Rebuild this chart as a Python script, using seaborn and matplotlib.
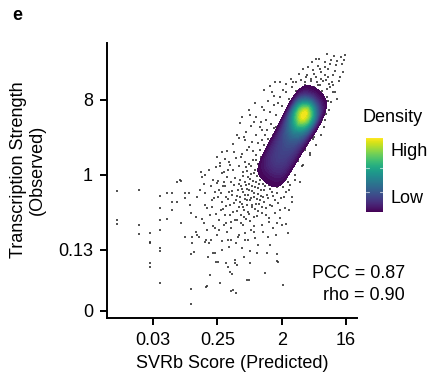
"""Predicted SVRb score vs observed transcription strength (panel e)."""

import matplotlib

matplotlib.use("Agg")
import matplotlib.pyplot as plt
import seaborn as sns

# --- data (log2 units) ------------------------------------------------------
# sparse individual measurements outside the dense core
POINT_X = [
    -6.67, -5.65, -6.67, -6.67, -5.65, -5.65, -5.14, -5.14, -4.67, -4.67, -4.67, -4.67, -4.67,
    -4.35, -4.35, -4.12, -4.12, -4.12, -3.88, -3.70, -3.88, -3.70, -3.51, -3.51, -3.51, -3.33,
    -3.28, -3.23, -3.19, -2.95, -3.00, -3.00, -2.86, -2.81, -2.77, -2.58, -2.58, -2.58, -2.63,
    -2.53, -2.49, -2.35, -2.26, -2.12, -2.12, -1.88, -1.79, -2.02, -5.14, -4.67, -5.14, -5.14,
    -4.67, -3.23, -3.23, -3.19, -3.23, -3.09, -2.95, -2.58, -2.40, -2.44, -2.53, -2.49, -2.35,
    -2.21, -2.12, -2.07, -1.98, -1.88, -1.79, -1.60, -1.51, -1.42, -1.33, -1.37, -1.14, -1.19,
    -1.09, -1.19, -0.77, -0.49, -0.49, -0.53, -0.12, -0.16, 0.21, 0.77, 0.77, 0.72, 1.28, 0.81,
    1.05, 0.44, 0.30, -0.63, -1.28, 0.77, 1.00, -3.74, -2.70,
    -2.40, -2.20, -2.05, -1.95, -1.85, -1.75, -1.70, -1.65, -1.60, -1.55, -1.50, -1.45, -1.40,
    -1.35, -2.30, -2.00, -1.90, -1.80, -2.25,
    -1.40, -1.30, -1.25, -1.20, -1.15, -1.10, -1.05, -1.00, -0.95, -0.95, -0.90, -0.88, -0.85,
    -0.80, -0.80, -0.78, -0.75, -0.72, -0.70, -0.68, -0.65, -0.62, -0.60, -0.58, -0.55, -0.52,
    -0.50, -0.50, -0.48, -0.45, -0.42, -0.40, -0.38, -0.35, -0.33, -0.30, -0.28, -0.25, -0.22,
    -0.20, -0.18, -0.15, -0.12, -0.10, -0.08, -0.05, -0.02, 0.00, 0.02, 0.05, 0.08, 0.10, 0.12,
    0.15, 0.18, 0.20, 0.22, 0.25, 0.28, 0.30, 0.33, 0.36, 0.40, 0.42, 0.45, 0.50, 0.52, 0.55,
    0.60, 0.62, 0.65, 0.70, 0.72, 0.78, 0.80, -1.60, -1.65, -1.70, -1.80, -1.90, -1.55, -1.35,
    -1.00, -0.70, -0.30, 0.10, 0.40, 0.90, 1.10, 1.00,
    0.95, 1.15, 1.30, 1.45, 1.60, 1.75, 1.20, 1.50, 1.85, 2.00, 2.10, 2.30, 2.50, 2.70, 2.90,
    2.60, 3.00, 2.85,
    -0.90, -0.60, -0.40, -0.20, 0.00, 0.10, 0.25, 0.30, 0.45, 0.50, 0.65, 0.75, 0.90, 1.00,
    1.20, 1.35, 1.50, 1.65, -0.75, -0.30, 0.10, 0.55, -1.20, -1.50, -1.10, -0.50, 0.20, 0.90,
    0.67, -0.95, -0.49, 1.51, -0.72, 0.07,
    1.90, 2.10, 2.20, 2.35, 2.45, 2.60, 2.70, 2.80, 2.85, 3.00, 3.05, 3.15, 3.25, 3.30, 3.40,
    3.50, 3.55, 3.65, 3.75, 3.85, 3.95, 3.10, 2.95, 3.30, 2.50, 2.40, 2.00, 3.45, 3.20, 2.90,
    2.75, 3.60, 3.00, 3.20, 2.95, 3.40, 2.55, 2.65, 2.85, 3.00, 3.10, 3.35, 2.25, 2.15,
    -1.83, -1.74, -1.69, -1.62, -1.58, -1.51, -1.47, -1.43, -1.38, -1.36, -1.31, -1.27, -1.22,
    -1.19, -1.16, -1.12, -1.08, -1.06, -1.03, -0.99, -0.97, -0.93, -0.91, -0.87, -0.84, -0.82,
    -0.79, -0.76, -0.73, -0.71, -0.69, -0.66, -0.63, -0.61, -0.57, -0.54, -0.53, -0.49, -0.47,
    -0.44, -0.41, -0.39, -0.36, -0.34, -0.31, -0.29, -0.27, -0.24, -0.21, -0.19, -0.16, -0.14,
    -0.11, -0.09, -0.06, -0.04, -0.01, 0.03, 0.06, 0.08, 0.11, 0.14, 0.17, 0.19, 0.23, 0.26,
    0.29, 0.31, 0.34, 0.38, 0.41, 0.44, 0.47, 0.51, 0.54, 0.57, 0.61, 0.64, 0.67, 0.71, 0.74,
    0.79, 0.83, 0.88, 0.93, 0.97, 1.04, 1.09, 1.14, 1.21, 1.27, 1.33, 1.41, 1.48, 1.56,
    -2.14, -2.08, -2.03, -1.97, -1.91, -1.87, -2.27, -2.18, -1.77, -1.46, -1.12, -0.86, -0.58,
    -0.22, 0.12, 0.36, 0.58, 0.91, 1.18, 1.36, -2.46, -2.61, -2.72, -1.29, -1.57, -0.97, -0.68,
    -0.42, -0.18, 0.05, 0.19, 0.38, 0.62, 0.81, 1.06, 1.18, 1.42, 1.66, 1.79, -0.83, -0.24,
    0.47,
    2.20, 2.45, 2.62, 2.78, 3.07, 3.15, 2.32, 1.95, 1.63, 1.38,
    2.38, 2.52, 2.68, 2.79, 2.91, 3.04, 3.18, 3.27, 3.38, 3.49, 3.58, 3.71, 3.82, 2.22, 2.60,
    3.12, 3.92, 2.07,
]
POINT_Y = [
    -0.64, -0.60, -1.80, -1.96, -2.00, -2.36, -2.32, -2.68, -0.84, -1.32, -1.80, -2.20, -2.92,
    -0.72, -1.76, -0.72, -1.08, -1.40, -0.28, -0.24, -1.08, -1.92, -0.72, -0.92, -2.48, -0.72,
    -1.20, -1.52, -2.48, -0.88, -1.68, -2.28, -2.48, -0.60, 0.12, 0.00, -0.72, -1.20, -1.92,
    -2.60, -2.20, -1.60, -1.00, -0.68, -2.12, 0.48, 0.08, -0.32, -2.72, -3.04, -3.52, -3.68,
    -4.32, -4.56, -5.16, -2.72, -3.16, -3.08, -2.40, -2.68, -2.72, -3.28, -4.48, -4.44, -4.00,
    -3.12, -3.12, -3.48, -3.48, -4.32, -3.00, -3.52, -3.68, -3.88, -3.96, -4.64, -4.72, -3.52,
    -3.60, -3.40, -3.28, -3.04, -3.52, -4.20, -2.80, -3.12, -3.92, -3.16, -3.44, -2.40, -2.32,
    -3.48, -4.40, -2.80, -3.12, -4.20, -4.60, -1.92, -2.00, -0.20, -0.08,
    0.20, -0.20, 0.30, -0.90, -1.40, -0.45, -2.00, 0.65, -1.25, -0.10, -2.60, -0.70, 0.40,
    -1.90, -2.60, -2.40, -1.80, 0.90, -1.30,
    -1.20, -0.80, -1.50, -0.40, -1.00, -1.80, -0.60, -1.30, -0.20, -0.90, -1.60, -0.45, -1.15,
    0.10, -0.70, -2.00, -1.40, -0.30, -0.95, -1.75, 0.30, -0.55, -1.20, -0.10, -0.80, -1.55,
    0.45, -0.35, -1.00, -2.20, 0.05, -0.65, -1.30, 0.60, -0.25, -0.90, -1.70, 0.20, -0.50,
    -1.15, 0.80, -0.05, -0.75, -1.45, 0.45, -0.35, -1.00, 1.00, 0.10, -0.60, -1.30, 0.60, -0.15,
    -0.90, 1.20, 0.30, -0.45, -1.60, 0.85, -0.05, -0.80, 1.45, 0.50, -0.40, -1.20, 1.00, 0.10,
    -0.70, 1.60, 0.55, -0.30, -1.00, 1.90, 0.20, -0.50, -0.90, -1.60, -0.30, -1.10, -0.60,
    -2.30, -2.60, -2.40, -2.60, -2.30, -2.00, -1.90, -1.40, -0.90, -0.20,
    0.10, 0.35, -0.30, 0.50, 0.00, 0.55, -0.70, -1.10, -0.30, 0.40, 1.00, 0.80, 1.50, 1.90, 2.20,
    1.20, 2.70, 1.60,
    0.70, 1.00, 1.30, 1.60, 1.90, 1.40, 2.20, 1.80, 2.50, 2.05, 2.80, 2.40, 3.10, 2.75, 3.30,
    3.05, 3.50, 3.35, 1.50, 2.10, 2.70, 3.30, 0.90, 0.20, 1.60, 2.60, 3.40, 3.70, 3.72, 2.08,
    2.40, 3.72, 1.40, 1.80,
    3.80, 3.60, 4.00, 3.75, 4.20, 3.90, 4.35, 3.60, 4.10, 4.50, 3.80, 4.25, 3.50, 4.60, 4.00,
    3.30, 4.40, 3.75, 4.70, 4.10, 4.80, 3.10, 2.80, 2.90, 3.50, 4.50, 4.25, 4.75, 3.65, 3.35,
    4.65, 3.05, 2.20, 2.60, 1.90, 3.30, 3.45, 3.70, 3.85, 4.00, 3.45, 3.70, 3.55, 3.90,
    -0.71, -1.37, 0.12, -0.46, -1.93, -0.98, 0.53, -1.61, -0.27, -2.14, -0.63, 0.21, -1.12,
    -1.79, -0.14, 0.68, -0.84, -1.43, -2.47, -0.36, 0.37, -1.07, -1.92, -0.58, 0.83, -1.27,
    -0.03, -1.68, -0.79, 0.52, -2.31, -0.42, -1.02, 0.16, -1.48, -0.62, 1.12, -0.17, -1.86,
    -0.93, 0.37, -1.21, -0.46, 0.94, -2.04, -0.71, 0.08, -1.38, -0.29, 0.58, -0.97, -1.66,
    -0.52, 1.27, 0.23, -1.18, -0.21, -0.83, 0.71, -1.51, -0.38, 0.37, -1.08, -0.62, 1.58, 0.02,
    -1.34, -0.27, 0.64, -0.94, -1.71, 1.09, -0.56, -0.12, -1.26, 0.41, -0.83, 1.86, -0.33,
    -1.52, 0.12, -0.71, -1.12, -0.24, 0.38, -0.91, -0.47, 0.22, -1.33, -0.16, 0.57, -0.61,
    0.14, -0.87, 0.42,
    -0.91, -1.56, 0.72, -0.23, -2.21, 0.36, -0.43, -2.04, -2.66, -2.87, -2.71, -2.93, -2.62,
    -2.54, -2.28, -2.47, -2.13, -1.74, -1.97, -1.42, -1.31, -0.37, -1.77, 1.22, 0.97, 1.46, 1.73,
    1.95, 2.31, 2.12, 2.58, 2.94, 3.14, 2.86, 3.41, 3.62, 3.84, 3.71, 4.02, 2.33, 2.87,
    3.56,
    1.20, 1.45, 2.05, 2.25, 2.43, 2.95, 0.86, 0.35, -0.21, -0.42,
    3.82, 4.05, 3.58, 4.22, 3.74, 4.31, 3.92, 4.44, 3.58, 4.17, 4.56, 3.92, 4.45, 4.31, 4.62,
    4.82, 4.60, 3.71,
]

# dense core: sample locations and relative weights used for the density layer
CORE_X = [
    1.82, 2.03, 2.24, 2.45, 2.66,
    1.68, 1.89, 2.10, 2.31, 2.52,
    1.46, 1.67, 1.88, 2.09, 2.30,
    1.24, 1.45, 1.66, 1.87, 2.08,
    1.02, 1.23, 1.44, 1.65, 1.86,
    0.80, 1.01, 1.22, 1.43, 1.64,
    0.58, 0.79, 1.00, 1.21, 1.42,
    0.36, 0.57, 0.78, 0.99, 1.20,
    0.17, 0.38, 0.59, 0.80, 1.01,
]
CORE_Y = [
    2.99, 2.85, 2.71, 2.57, 2.43,
    2.78, 2.64, 2.50, 2.36, 2.22,
    2.45, 2.31, 2.17, 2.03, 1.89,
    2.11, 1.97, 1.83, 1.69, 1.55,
    1.78, 1.64, 1.50, 1.36, 1.22,
    1.44, 1.30, 1.16, 1.02, 0.88,
    1.11, 0.97, 0.83, 0.69, 0.55,
    0.78, 0.64, 0.50, 0.36, 0.22,
    0.48, 0.34, 0.20, 0.06, -0.08,
]
CORE_W = [
    0.8, 1.3, 1.6, 1.3, 0.8,
    4.0, 7.5, 10.0, 7.5, 4.0,
    2.4, 4.0, 5.0, 4.0, 2.4,
    1.4, 2.2, 2.6, 2.2, 1.4,
    1.0, 1.5, 1.7, 1.5, 1.0,
    0.9, 1.25, 1.35, 1.25, 0.9,
    0.8, 1.1, 1.2, 1.1, 0.8,
    0.7, 1.0, 1.1, 1.0, 0.7,
    0.6, 0.85, 0.95, 0.85, 0.6,
]

X_TICKS = [-5, -2, 1, 4]
X_TICK_LABELS = ["0.03", "0.25", "2", "16"]
Y_TICKS = [-5.44, -3, 0, 3]
Y_TICK_LABELS = ["0", "0.13", "1", "8"]

PCC = 0.87
RHO = 0.90

sns.set_theme(style="ticks")
plt.rcParams["font.family"] = ["Liberation Sans", "DejaVu Sans"]
plt.rcParams["font.size"] = 13
plt.rcParams["text.color"] = "black"
plt.rcParams["axes.labelcolor"] = "black"

fig = plt.figure(figsize=(4.3, 3.79), dpi=100)
ax = fig.add_axes([0.2488, 0.161, 0.5814, 0.7256])

sns.scatterplot(x=POINT_X, y=POINT_Y, s=1.0, marker="s", color="#2a2a2a",
                linewidth=0, alpha=0.8, ax=ax, zorder=1)
sns.kdeplot(x=CORE_X, y=CORE_Y, weights=CORE_W, fill=True, cmap="viridis",
            levels=40, thresh=0.015, bw_adjust=0.75, ax=ax, zorder=2)

ax.set_xlim(-7.14, 4.51)
ax.set_ylim(-5.72, 5.28)
ax.set_xticks(X_TICKS, X_TICK_LABELS)
ax.set_yticks(Y_TICKS, Y_TICK_LABELS)
ax.tick_params(length=5, width=1.4, pad=5, labelsize=13, color="black", labelcolor="black")
sns.despine(ax=ax)
for side in ("left", "bottom"):
    ax.spines[side].set_linewidth(1.4)
    ax.spines[side].set_color("black")

ax.set_xlabel("SVRb Score (Predicted)", fontsize=13)
ax.xaxis.set_label_coords(0.5, -0.135)
ax.set_ylabel("Transcription Strength\n(Observed)", fontsize=13, linespacing=1.1)
ax.yaxis.set_label_coords(-0.245, 0.538)

fig.text(17 / 430, 1 - 15 / 379, "e", fontsize=13, fontweight="bold", ha="center", va="center")
fig.text(405 / 430, 1 - 273 / 379, f"PCC = {PCC:.2f}", fontsize=13, ha="right", va="center")
fig.text(405 / 430, 1 - 296 / 379, f"rho = {RHO:.2f}", fontsize=13, ha="right", va="center")

# density legend
cax = fig.add_axes([366 / 430, 1 - 212 / 379, 17 / 430, 74 / 379])
sm = plt.cm.ScalarMappable(cmap="viridis")
cb = fig.colorbar(sm, cax=cax)
cb.outline.set_visible(False)
cax.set_yticks([])
for frac in (0.27, 0.595):
    cax.axhline(frac, 0, 0.2, color="white", lw=0.8, alpha=0.6)
    cax.axhline(frac, 0.8, 1, color="white", lw=0.8, alpha=0.6)
fig.text(362 / 430, 1 - 118 / 379, "Density", fontsize=13, ha="left", va="center")
fig.text(391 / 430, 1 - 152 / 379, "High", fontsize=13, ha="left", va="center")
fig.text(391 / 430, 1 - 198 / 379, "Low", fontsize=13, ha="left", va="center")

fig.savefig("out.png", dpi=100)
